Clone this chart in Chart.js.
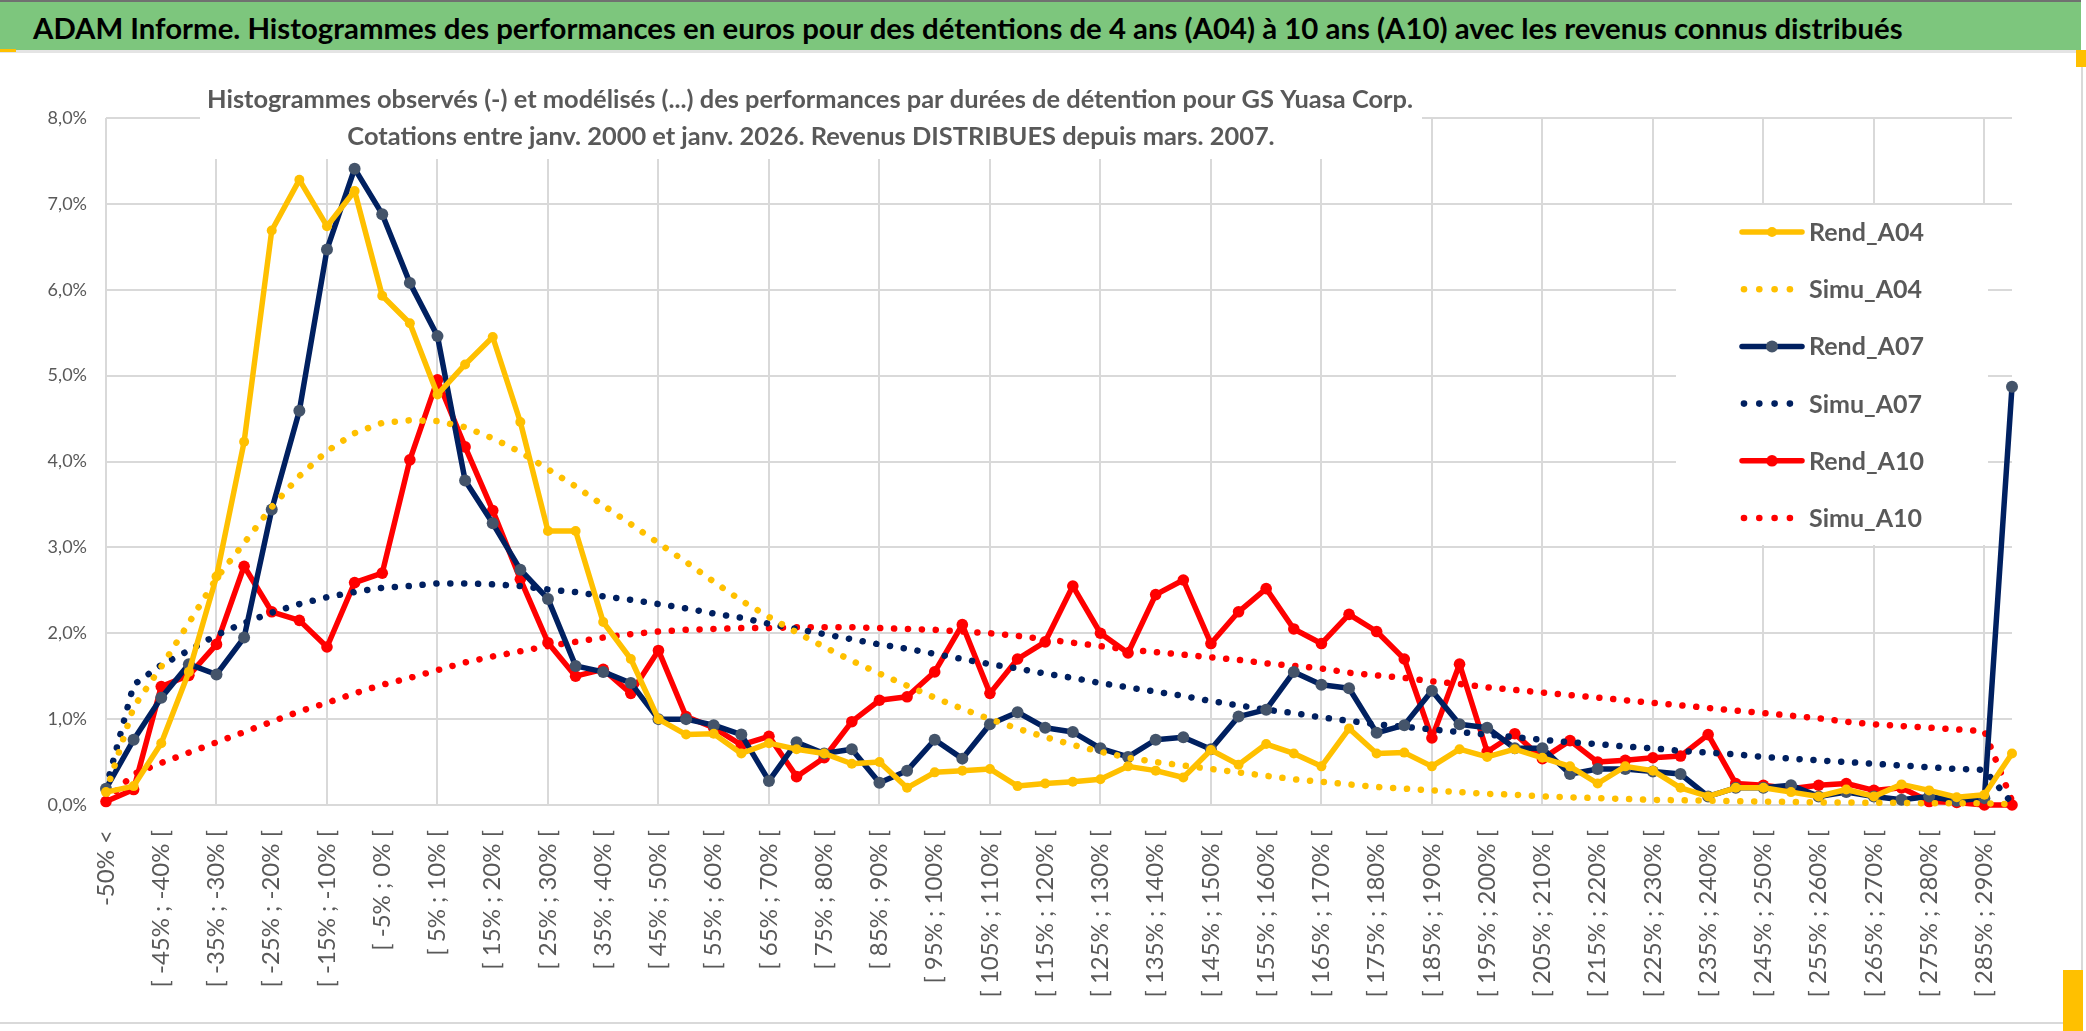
<!DOCTYPE html>
<html>
<head>
<meta charset="utf-8">
<script src="https://cdn.jsdelivr.net/npm/chart.js@4.4.1/dist/chart.umd.min.js"></script>
<style>
    html, body { margin: 0; padding: 0; background: #fff; }
    body { width: 2086px; height: 1031px; position: relative; overflow: hidden; font-family: Lato, sans-serif; }
    #header { position: absolute; left: 0; top: 0; width: 2081px; height: 50px; background: #7dc67d; border-top: 2px solid #707070; box-sizing: border-box; }
    #headerText { position: absolute; left: 33px; top: 8px; font-weight: bold; font-size: 28px; color: #000; white-space: nowrap; }
    #sep { position: absolute; left: 0; top: 50px; width: 2081px; height: 3px; background: #e4e4e4; }
    #frame { position: absolute; left: 0; top: 53px; width: 2083px; height: 971px; border-right: 2px solid #d9d9d9; border-bottom: 2px solid #d9d9d9; box-sizing: border-box; }
    #chartWrap { position: absolute; left: 0; top: 53px; width: 2081px; height: 969px; }
    .mark { position: absolute; background: #ffc000; }
</style>
</head>
<body>
<div id="header"><span id="headerText">ADAM Informe. Histogrammes des performances en euros pour des détentions de 4 ans (A04) à 10 ans (A10) avec les revenus connus distribués</span></div>
<div id="sep"></div>
<div id="frame"></div>
<div id="chartWrap"><canvas id="LineChart"></canvas></div>
<div class="mark" style="left:0;top:49px;width:16px;height:3px"></div>
<div class="mark" style="left:2076px;top:50px;width:10px;height:17px"></div>
<div class="mark" style="left:2063px;top:970px;width:20px;height:61px"></div>
<script>
// Classes de performance (axe X)
const categories = [
    '-50% <',
    '[ -50% ; -45% [', '[ -45% ; -40% [', '[ -40% ; -35% [', '[ -35% ; -30% [', '[ -30% ; -25% [',
    '[ -25% ; -20% [', '[ -20% ; -15% [', '[ -15% ; -10% [', '[ -10% ; -5% [', '[ -5% ; 0% [',
    '[ 0% ; 5% [', '[ 5% ; 10% [', '[ 10% ; 15% [', '[ 15% ; 20% [', '[ 20% ; 25% [',
    '[ 25% ; 30% [', '[ 30% ; 35% [', '[ 35% ; 40% [', '[ 40% ; 45% [', '[ 45% ; 50% [',
    '[ 50% ; 55% [', '[ 55% ; 60% [', '[ 60% ; 65% [', '[ 65% ; 70% [', '[ 70% ; 75% [',
    '[ 75% ; 80% [', '[ 80% ; 85% [', '[ 85% ; 90% [', '[ 90% ; 95% [', '[ 95% ; 100% [',
    '[ 100% ; 105% [', '[ 105% ; 110% [', '[ 110% ; 115% [', '[ 115% ; 120% [', '[ 120% ; 125% [',
    '[ 125% ; 130% [', '[ 130% ; 135% [', '[ 135% ; 140% [', '[ 140% ; 145% [', '[ 145% ; 150% [',
    '[ 150% ; 155% [', '[ 155% ; 160% [', '[ 160% ; 165% [', '[ 165% ; 170% [', '[ 170% ; 175% [',
    '[ 175% ; 180% [', '[ 180% ; 185% [', '[ 185% ; 190% [', '[ 190% ; 195% [', '[ 195% ; 200% [',
    '[ 200% ; 205% [', '[ 205% ; 210% [', '[ 210% ; 215% [', '[ 215% ; 220% [', '[ 220% ; 225% [',
    '[ 225% ; 230% [', '[ 230% ; 235% [', '[ 235% ; 240% [', '[ 240% ; 245% [', '[ 245% ; 250% [',
    '[ 250% ; 255% [', '[ 255% ; 260% [', '[ 260% ; 265% [', '[ 265% ; 270% [', '[ 270% ; 275% [',
    '[ 275% ; 280% [', '[ 280% ; 285% [', '[ 285% ; 290% [', '290% >'
];

// Valeurs en %
const rendA04 = [
    0.15, 0.22, 0.72, 1.55, 2.66, 4.23, 6.69, 7.28, 6.74, 7.15,
    5.93, 5.61, 4.78, 5.13, 5.45, 4.46, 3.19, 3.19, 2.13, 1.70,
    1.00, 0.82, 0.83, 0.60, 0.72, 0.65, 0.60, 0.48, 0.50, 0.20,
    0.38, 0.40, 0.42, 0.22, 0.25, 0.27, 0.30, 0.45, 0.40, 0.32,
    0.64, 0.47, 0.71, 0.60, 0.45, 0.89, 0.60, 0.61, 0.45, 0.65,
    0.56, 0.65, 0.55, 0.45, 0.25, 0.45, 0.40, 0.20, 0.10, 0.20,
    0.20, 0.15, 0.10, 0.18, 0.10, 0.24, 0.17, 0.09, 0.12, 0.60
];
const simuA04 = [
    0.15, 1.14, 1.61, 2.12, 2.64, 3.05, 3.47, 3.83, 4.12, 4.33,
    4.45, 4.48, 4.47, 4.40, 4.27, 4.11, 3.91, 3.71, 3.49, 3.27,
    3.05, 2.83, 2.60, 2.38, 2.19, 2.01, 1.84, 1.68, 1.53, 1.39,
    1.25, 1.12, 1.00, 0.89, 0.79, 0.70, 0.62, 0.55, 0.50, 0.46,
    0.42, 0.38, 0.34, 0.30, 0.27, 0.24, 0.21, 0.19, 0.17, 0.15,
    0.13, 0.12, 0.10, 0.09, 0.08, 0.07, 0.06, 0.055, 0.05, 0.045,
    0.04, 0.035, 0.03, 0.03, 0.025, 0.025, 0.02, 0.02, 0.02, 0.01
];
const rendA07 = [
    0.19, 0.76, 1.25, 1.64, 1.52, 1.95, 3.44, 4.59, 6.47, 7.41,
    6.88, 6.08, 5.46, 3.78, 3.28, 2.74, 2.40, 1.62, 1.55, 1.42,
    1.00, 1.00, 0.93, 0.82, 0.28, 0.73, 0.60, 0.65, 0.26, 0.40,
    0.76, 0.54, 0.94, 1.08, 0.90, 0.85, 0.66, 0.56, 0.76, 0.79,
    0.65, 1.03, 1.11, 1.55, 1.40, 1.36, 0.84, 0.93, 1.33, 0.94,
    0.90, 0.66, 0.66, 0.36, 0.42, 0.42, 0.39, 0.36, 0.10, 0.20,
    0.20, 0.23, 0.10, 0.15, 0.10, 0.06, 0.10, 0.05, 0.08, 4.87
];
const simuA07 = [
    0.20, 1.40, 1.63, 1.80, 1.98, 2.12, 2.24, 2.34, 2.42, 2.48,
    2.53, 2.55, 2.58, 2.58, 2.57, 2.55, 2.51, 2.48, 2.43, 2.39,
    2.34, 2.29, 2.23, 2.18, 2.11, 2.05, 1.99, 1.93, 1.87, 1.82,
    1.76, 1.70, 1.64, 1.59, 1.53, 1.48, 1.42, 1.37, 1.32, 1.27,
    1.21, 1.16, 1.11, 1.07, 1.02, 0.98, 0.94, 0.91, 0.88, 0.85,
    0.82, 0.79, 0.76, 0.73, 0.71, 0.68, 0.66, 0.63, 0.61, 0.59,
    0.56, 0.54, 0.52, 0.50, 0.48, 0.46, 0.44, 0.42, 0.41, 0.02
];
const rendA10 = [
    0.04, 0.18, 1.38, 1.51, 1.87, 2.78, 2.25, 2.15, 1.84, 2.59,
    2.70, 4.02, 4.95, 4.17, 3.43, 2.63, 1.89, 1.50, 1.58, 1.30,
    1.80, 1.03, 0.90, 0.70, 0.80, 0.33, 0.55, 0.97, 1.22, 1.26,
    1.55, 2.10, 1.30, 1.70, 1.90, 2.55, 2.00, 1.77, 2.45, 2.62,
    1.88, 2.25, 2.52, 2.05, 1.88, 2.22, 2.02, 1.70, 0.78, 1.64,
    0.62, 0.83, 0.54, 0.75, 0.50, 0.52, 0.55, 0.57, 0.82, 0.25,
    0.23, 0.19, 0.23, 0.25, 0.17, 0.20, 0.04, 0.03, 0.00, 0.00
];
const simuA10 = [
    0.05, 0.36, 0.49, 0.61, 0.73, 0.85, 0.97, 1.09, 1.19, 1.30,
    1.40, 1.48, 1.57, 1.66, 1.73, 1.79, 1.85, 1.90, 1.95, 1.99,
    2.02, 2.04, 2.05, 2.06, 2.06, 2.07, 2.07, 2.07, 2.06, 2.05,
    2.04, 2.02, 2.00, 1.97, 1.93, 1.89, 1.85, 1.81, 1.78, 1.75,
    1.72, 1.69, 1.65, 1.62, 1.59, 1.54, 1.51, 1.48, 1.44, 1.41,
    1.37, 1.34, 1.31, 1.28, 1.25, 1.22, 1.19, 1.16, 1.13, 1.10,
    1.07, 1.04, 1.01, 0.97, 0.94, 0.92, 0.90, 0.88, 0.86, 0.05
];

const yTicks = [0, 1, 2, 3, 4, 5, 6, 7, 8];

const subtitleLines = [
    'Histogrammes observés (-) et modélisés (...) des performances par durées de détention pour GS Yuasa Corp.',
    'Cotations entre janv. 2000 et janv. 2026. Revenus DISTRIBUES depuis mars. 2007.'
];

// ajuster le titre principal à la largeur de la bande verte
const headerText = document.getElementById('headerText');
const headerW = headerText.getBoundingClientRect().width;
headerText.style.fontSize = (28 * 1870 / headerW) + 'px';

const GRID = '#d9d9d9';
const TEXT = '#595959';
const YELLOW = '#ffc000';
const NAVY = '#002060';
const RED = '#ff0000';

function solid(label, data, color, pointColor, radius) {
    return {
        label: label, data: data, borderColor: color, backgroundColor: pointColor,
        borderWidth: 5.5, pointRadius: radius, pointBorderColor: pointColor, pointBackgroundColor: pointColor,
        pointBorderWidth: 0, tension: 0, borderJoinStyle: 'round', borderCapStyle: 'round', clip: false,
        kind: 'solid'
    };
}
function dotted(label, data, color) {
    return {
        label: label, data: data, borderColor: color, backgroundColor: color,
        borderWidth: 6.5, borderDash: [0.1, 13.8], borderCapStyle: 'round', pointRadius: 0,
        tension: 0, clip: false, kind: 'dotted'
    };
}

// Boîte du sous-titre (au-dessus de la grille, comme dans Excel)
const subtitlePlugin = {
    id: 'subtitleBox',
    beforeDatasetsDraw(chart) {
        const c = chart.ctx;
        c.save();
        c.fillStyle = '#fff';
        c.fillRect(200, 27, 1222, 79);
        c.font = 'bold 24px Lato';
        const w = c.measureText(subtitleLines[0]).width;
        const size = 24 * 1207 / w;
        c.font = 'bold ' + size + 'px Lato';
        c.fillStyle = TEXT;
        c.textAlign = 'center';
        c.textBaseline = 'middle';
        c.fillText(subtitleLines[0], 810, 47);
        c.fillText(subtitleLines[1], 811, 84);
        c.restore();
    }
};

// Légende dans la zone de traçage
const legendPlugin = {
    id: 'insideLegend',
    beforeDatasetsDraw(chart) {
        const c = chart.ctx;
        c.save();
        c.fillStyle = '#fff';
        c.fillRect(1676, 152, 312, 340);
        chart.data.datasets.forEach((ds, i) => {
            const y = 179 + i * 57.2;
            const x0 = 1742, x1 = 1802;
            if (ds.kind === 'solid') {
                c.strokeStyle = ds.borderColor;
                c.lineWidth = 5.5;
                c.lineCap = 'round';
                c.beginPath(); c.moveTo(x0, y); c.lineTo(x1, y); c.stroke();
                c.fillStyle = ds.pointBackgroundColor;
                c.beginPath(); c.arc((x0 + x1) / 2, y, ds.pointRadius, 0, Math.PI * 2); c.fill();
            } else {
                c.fillStyle = ds.borderColor;
                for (let k = 0; k < 4; k++) {
                    c.beginPath(); c.arc(x0 + 2 + k * 15.3, y, 3.3, 0, Math.PI * 2); c.fill();
                }
            }
            c.font = 'bold 25px Lato';
            c.fillStyle = TEXT;
            c.textAlign = 'left';
            c.textBaseline = 'middle';
            c.fillText(ds.label, 1809, y + 1);
        });
        c.restore();
    }
};

const config = {
    type: 'line',
    data: {
        labels: categories,
        datasets: [
            solid('Rend_A04', rendA04, YELLOW, YELLOW, 5),
            dotted('Simu_A04', simuA04, YELLOW),
            solid('Rend_A07', rendA07, NAVY, '#44546a', 6),
            dotted('Simu_A07', simuA07, NAVY),
            solid('Rend_A10', rendA10, RED, RED, 5.8),
            dotted('Simu_A10', simuA10, RED)
        ]
    },
    options: {
        responsive: true,
        maintainAspectRatio: false,
        animation: false,
        events: [],
        layout: { padding: { top: 65, right: 69, bottom: 0, left: 0 } },
        scales: {
            x: {
                type: 'category',
                offset: false,
                afterFit: scale => { scale.height = 217; },
                grid: {
                    color: c => (c.index % 4 === 0 ? GRID : 'rgba(0,0,0,0)'),
                    lineWidth: 2,
                    drawTicks: false
                },
                border: { display: true, color: GRID, width: 2 },
                ticks: {
                    autoSkip: false,
                    maxRotation: 90,
                    minRotation: 90,
                    padding: 25,
                    color: TEXT,
                    font: { family: 'Lato', size: 24 },
                    callback: (v, i) => (i % 2 === 0 ? categories[i] : '')
                }
            },
            y: {
                min: yTicks[0],
                max: yTicks[yTicks.length - 1],
                afterFit: scale => { scale.width = 106; },
                afterBuildTicks: scale => { scale.ticks = yTicks.map(v => ({ value: v })); },
                grid: { color: GRID, lineWidth: 2, drawTicks: false },
                border: { display: false },
                ticks: {
                    padding: 19,
                    color: TEXT,
                    font: { family: 'Lato', size: 18 },
                    callback: v => v.toFixed(1).replace('.', ',') + '%'
                }
            }
        },
        plugins: {
            legend: { display: false },
            title: { display: false },
            tooltip: { enabled: false }
        }
    },
    plugins: [subtitlePlugin, legendPlugin]
};

new Chart(document.getElementById('LineChart'), config);
</script>
</body>
</html>
